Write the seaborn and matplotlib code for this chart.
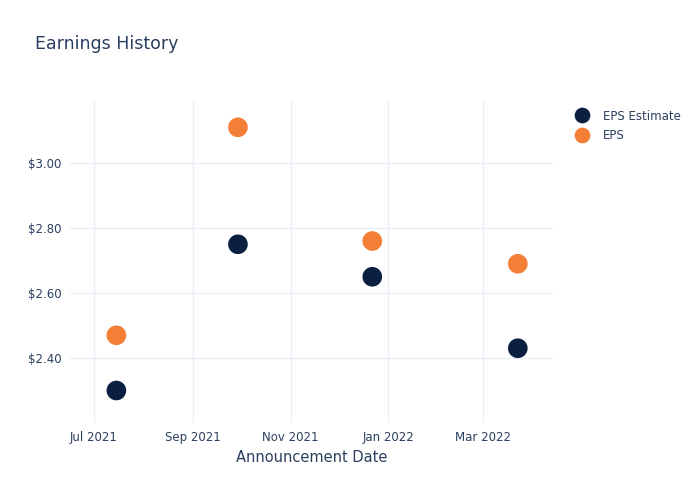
import pandas as pd
import seaborn as sns
import matplotlib.pyplot as plt
import matplotlib.dates as mdates
from matplotlib.ticker import FuncFormatter

# Data
dates = ["2021-07-15", "2021-09-29", "2021-12-22", "2022-03-23"]
eps_estimate = [2.30, 2.75, 2.65, 2.43]
eps_actual = [2.47, 3.11, 2.76, 2.69]
series_names = ["EPS Estimate", "EPS"]
colors = ["#0b1f40", "#f47f37"]
text_color = "#2a3f5f"

df = pd.DataFrame({
    "date": pd.to_datetime(dates * 2),
    "value": eps_estimate + eps_actual,
    "series": [series_names[0]] * len(dates) + [series_names[1]] * len(dates),
})

sns.set_style("white")
fig = plt.figure(figsize=(7, 5), dpi=100)
ax = fig.add_axes([70 / 700, 77 / 500, 483 / 700, 323 / 500])

sns.scatterplot(data=df, x="date", y="value", hue="series",
                palette=dict(zip(series_names, colors)),
                s=200, edgecolor="none", ax=ax, zorder=3)

ax.set_xlim(pd.Timestamp("2021-06-16"), pd.Timestamp("2022-04-14"))
ax.set_ylim(2.20, 3.194)
ax.xaxis.set_major_locator(mdates.MonthLocator(bymonth=[1, 3, 5, 7, 9, 11]))
ax.xaxis.set_major_formatter(mdates.DateFormatter("%b %Y"))
ax.set_yticks([2.4, 2.6, 2.8, 3.0])
ax.yaxis.set_major_formatter(FuncFormatter(lambda v, p: f"${v:.2f}"))

ax.grid(True, color="#ebf0f8", linewidth=1)
ax.set_axisbelow(True)
for sp in ax.spines.values():
    sp.set_visible(False)
ax.tick_params(axis="both", length=0, labelsize=8.5, colors=text_color, pad=6)

ax.set_xlabel("Announcement Date", fontsize=10.5, color=text_color, labelpad=4)
ax.set_ylabel("")

fig.text(35 / 700, 1 - 44 / 500, "Earnings History", fontsize=12.5, color=text_color,
         va="center", ha="left")

leg = ax.legend(loc="upper left", bbox_to_anchor=(1.025, 0.985), frameon=False,
                fontsize=8.5, handletextpad=0.8, labelspacing=0.55,
                borderaxespad=0, markerscale=0.8)
for t in leg.get_texts():
    t.set_color(text_color)

fig.savefig("out.png", dpi=100)
